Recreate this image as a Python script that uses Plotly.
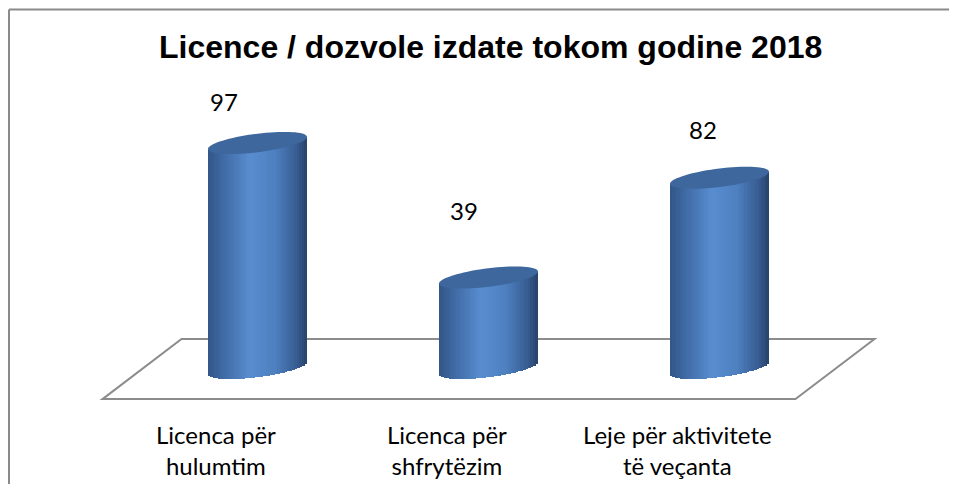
import numpy as np
import plotly.graph_objects as go

# ---- data ----
categories = ["Licenca për<br>hulumtim", "Licenca për<br>shfrytëzim", "Leje për aktivitete<br>të veçanta"]
values = [97, 39, 82]
title_text = "Licence / dozvole izdate tokom godine 2018"

# ---- geometry / style (not data) ----
W, H = 941, 476   # page body has an 8px margin
OFF = 8
R = 0.2143        # cylinder radius (x units)
E = 4.0           # ellipse half-height (y units)
T = 2.6           # ellipse tilt (y units)
N = 40            # shading strips
SKEW = 0.171      # floor skew
FLOOR_BACK, FLOOR_FRONT = 12.5, -13.4
X0PX, XUNIT = 257.5, 231.0
Y0PX, YUNIT = 368.0, 2.32

stops_u = [-1.0, -0.6, -0.15, 0.35, 0.8, 1.0]
stops_c = np.array([(50, 85, 135), (68, 112, 172), (88, 141, 208),
                    (78, 128, 192), (55, 92, 145), (40, 66, 105)], float)

def shade(u):
    return "rgb(%d,%d,%d)" % tuple(int(round(np.interp(u, stops_u, stops_c[:, j]))) for j in range(3))

xs = np.arange(len(values))
fig = go.Figure()

dw = 2 * R / N
for k in range(N):
    u = -1 + (k + 0.5) * 2 / N
    base = -E * np.sqrt(max(0.0, 1 - u * u)) + T * u
    tops = [v + T * u for v in values]
    fig.add_trace(go.Bar(
        x=xs + u * R, y=[tp - base for tp in tops], base=[base] * len(values),
        width=dw * 1.15, marker=dict(color=shade(u), line=dict(width=0)),
        hoverinfo="skip", showlegend=False))

shapes = []
n = len(values)
x_lo, x_hi = -0.5, n - 0.5
shapes.append(dict(type="path", xref="x", yref="y", layer="below",
                   path=f"M {x_lo-SKEW},{FLOOR_FRONT} L {x_lo+SKEW},{FLOOR_BACK} L {x_hi+SKEW},{FLOOR_BACK} L {x_hi-SKEW},{FLOOR_FRONT} Z",
                   line=dict(color="#8c8c8c", width=2), fillcolor="rgba(0,0,0,0)"))
th = np.linspace(0, 2 * np.pi, 73)
for i, v in zip(xs, values):
    px = i + R * np.cos(th)
    py = v + T * np.cos(th) + E * np.sin(th)
    path = "M " + " L ".join(f"{a:.4f},{b:.4f}" for a, b in zip(px, py)) + " Z"
    shapes.append(dict(type="path", xref="x", yref="y", layer="above", path=path,
                       fillcolor="rgb(62,103,158)", line=dict(width=0)))
# outer frame (left and top edges; the others lie outside the window)
shapes.append(dict(type="line", xref="paper", yref="paper",
                   x0=1/W, x1=1/W, y0=0, y1=1 - 1.5/H,
                   line=dict(color="#8a8a8a", width=2)))
shapes.append(dict(type="line", xref="paper", yref="paper",
                   x0=1/W, x1=1, y0=1 - 1.5/H, y1=1 - 1.5/H,
                   line=dict(color="#8a8a8a", width=2)))

annotations = []
lab_font = dict(family="Lato, Carlito, Calibri, sans-serif", size=24, color="#000000")
for i, v in zip(xs, values):
    annotations.append(dict(x=i - 0.145 + 0.037 * i, y=0.814 * v + 36, xref="x", yref="y",
                            text=str(v), showarrow=False, font=lab_font,
                            xanchor="center", yanchor="middle"))
for i, c in zip(xs, categories):
    annotations.append(dict(x=i - SKEW - 0.01, y=-35.3, xref="x", yref="y",
                            text=c, showarrow=False, font=lab_font,
                            xanchor="center", yanchor="middle"))
annotations.append(dict(x=(490 - OFF) / W, y=1 - (47 - OFF) / H, xref="paper", yref="paper",
                        text="<b>" + title_text + "</b>", showarrow=False,
                        font=dict(family="Liberation Sans, Arial, sans-serif", size=32, color="#000000"),
                        xanchor="center", yanchor="middle"))

fig.update_layout(
    width=W, height=H, margin=dict(l=0, r=0, t=0, b=0),
    paper_bgcolor="white", plot_bgcolor="white",
    barmode="overlay", bargap=0,
    xaxis=dict(range=[(OFF - X0PX) / XUNIT, (OFF + W - X0PX) / XUNIT], visible=False, fixedrange=True),
    yaxis=dict(range=[(Y0PX - (OFF + H)) / YUNIT, (Y0PX - OFF) / YUNIT], visible=False, fixedrange=True),
    shapes=shapes, annotations=annotations, showlegend=False,
)
fig.write_html("out.html")
